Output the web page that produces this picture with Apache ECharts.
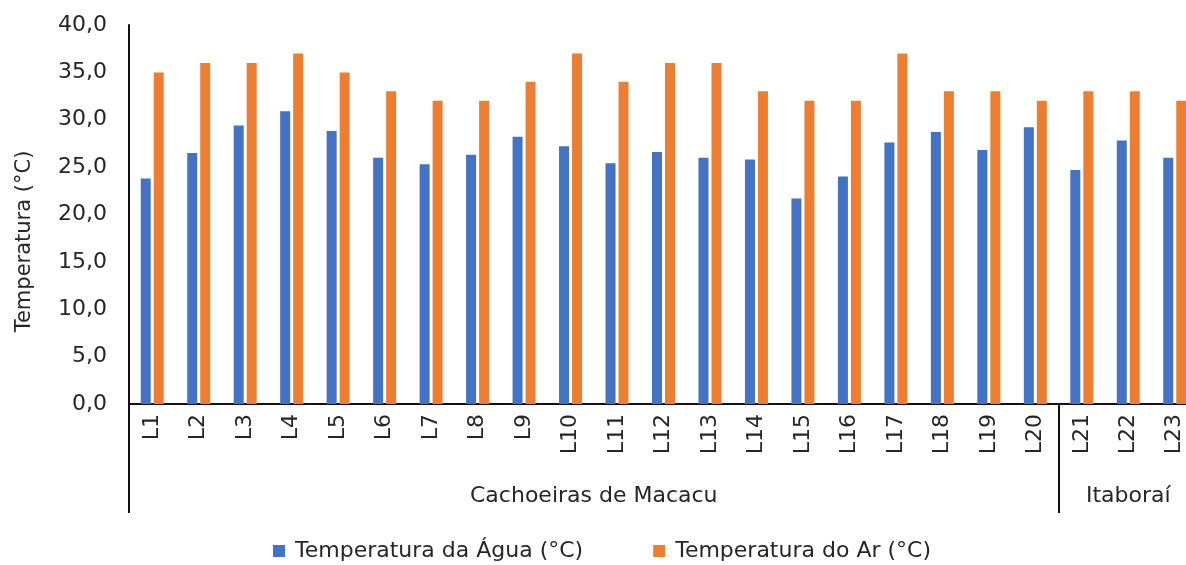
<!DOCTYPE html>
<html><head><meta charset="utf-8">
<script src="https://cdn.jsdelivr.net/npm/echarts@6/dist/echarts.min.js"></script>
<style>html,body{margin:0;padding:0;background:#fff}#c{width:1186px;height:565px}</style>
</head><body><div id="c"></div>
<script>
const categories = ["L1","L2","L3","L4","L5","L6","L7","L8","L9","L10","L11","L12","L13","L14","L15","L16","L17","L18","L19","L20","L21","L22","L23"];
const waterTemp = [23.8,26.5,29.4,30.9,28.8,26.0,25.3,26.3,28.2,27.2,25.4,26.6,26.0,25.8,21.7,24.0,27.6,28.7,26.8,29.2,24.7,27.8,26.0];
const airTemp = [35,36,36,37,35,33,32,32,34,37,34,36,36,33,32,32,37,33,33,32,33,33,32];
const groupNames = ["Cachoeiras de Macacu","Itaboraí"];
const groupBounds = [0,20,23];
const yTicks = [0,5,10,15,20,25,30,35,40];

const groupCenters = groupNames.map((g,i)=> (groupBounds[i]+groupBounds[i+1])/2);
const font = "DejaVu Sans";
const fs = 22;
const txt = '#262626';
const chart = echarts.init(document.getElementById('c'), null, {renderer:'canvas'});
chart.setOption({
  animation:false,
  textStyle:{fontFamily:font},
  legend:{
    bottom:-2, left:268, itemWidth:12, itemHeight:12, itemGap:70,
    icon:'rect',
    textStyle:{fontFamily:font,fontSize:fs,color:txt,padding:[0,0,0,5]},
    data:["Temperatura da Água (°C)","Temperatura do Ar (°C)"]
  },
  grid:{left:129, top:25, width:1069, height:379, outerBoundsMode:'none'},
  xAxis:[{
    type:'category', data:categories,
    axisLine:{lineStyle:{color:'#111',width:2}},
    axisTick:{show:false},
    axisLabel:{rotate:90, margin:10, fontSize:fs, color:txt, fontFamily:font, interval:0}
  },{
    type:'value', min:0, max:23, position:'bottom', gridIndex:0,
    axisLine:{show:false}, splitLine:{show:false},
    axisTick:{show:true, customValues:groupBounds, length:109, lineStyle:{color:'#111',width:2}},
    axisLabel:{customValues:groupCenters, margin:81, fontSize:fs, color:txt, fontFamily:font,
      formatter:(v)=>{const i=groupCenters.indexOf(v); return i>=0?groupNames[i]:'';}}
  }],
  yAxis:{
    type:'value', min:yTicks[0], max:yTicks[yTicks.length-1], interval:5,
    name:'Temperatura (°C)', nameLocation:'middle', nameGap:94,
    nameTextStyle:{fontSize:21,color:txt,fontFamily:font,padding:[0,54,0,0]},
    axisLine:{show:true,lineStyle:{color:'#111',width:2}},
    axisTick:{show:false},
    splitLine:{show:false},
    axisLabel:{margin:22,fontSize:fs,color:txt,fontFamily:font,
      formatter:(v)=>v.toFixed(1).replace('.',',')}
  },
  series:[
    {name:"Temperatura da Água (°C)", type:'bar', data:waterTemp, barWidth:10, barGap:'30%',
      itemStyle:{color:'#4472C4'}},
    {name:"Temperatura do Ar (°C)", type:'bar', data:airTemp, barWidth:10, barGap:'30%',
      itemStyle:{color:'#ED7D31'}}
  ]
});
</script></body></html>
